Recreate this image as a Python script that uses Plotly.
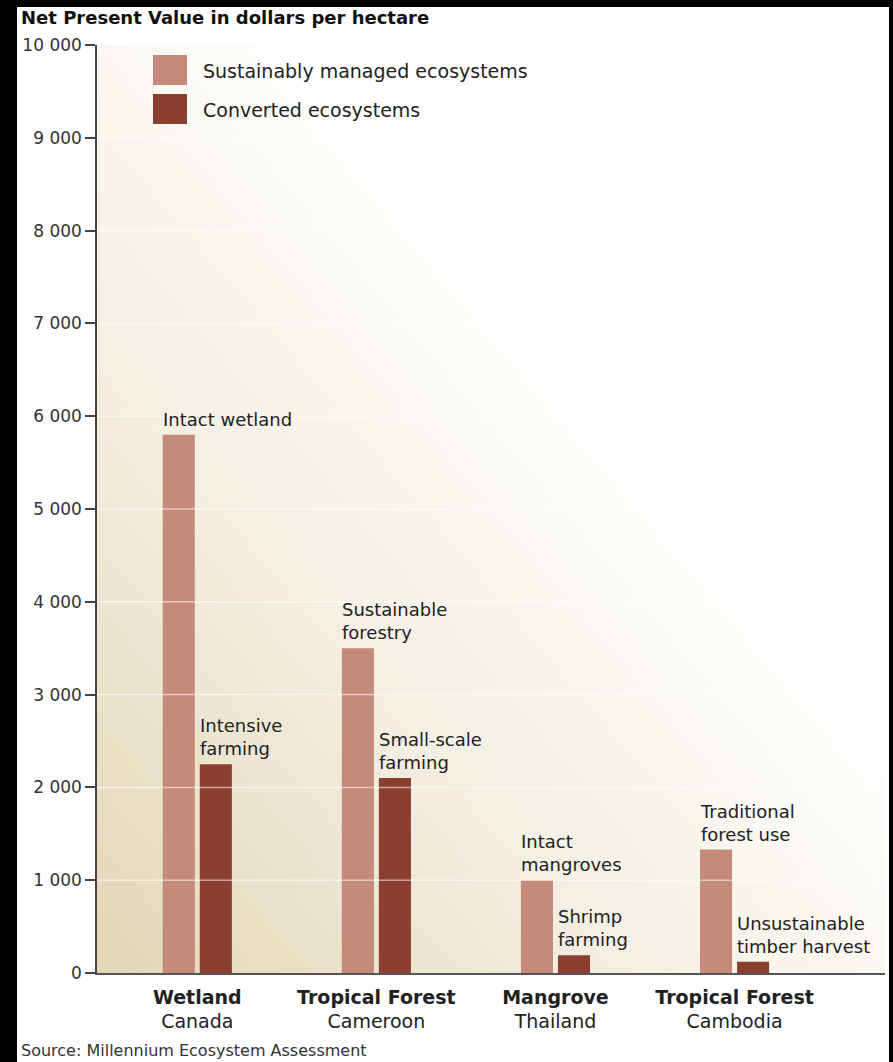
import base64
import plotly.graph_objects as go

# ---------------- data ----------------
ecosystems = ["Wetland", "Tropical Forest", "Mangrove", "Tropical Forest"]
countries = ["Canada", "Cameroon", "Thailand", "Cambodia"]
sustainable_values = [5800, 3500, 1000, 1330]
converted_values = [2250, 2100, 190, 120]
sustainable_labels = ["Intact wetland", "Sustainable<br>forestry", "Intact<br>mangroves", "Traditional<br>forest use"]
converted_labels = ["Intensive<br>farming", "Small-scale<br>farming", "Shrimp<br>farming", "Unsustainable<br>timber harvest"]
series_names = ["Sustainably managed ecosystems", "Converted ecosystems"]
y_tickvals = [0, 1000, 2000, 3000, 4000, 5000, 6000, 7000, 8000, 9000, 10000]
y_ticktext = ["0", "1 000", "2 000", "3 000", "4 000", "5 000", "6 000", "7 000", "8 000", "9 000", "10 000"]

# ---------------- style ----------------
LIGHT = "#c48a7a"
DARK = "#8b3f31"
FONT = "DejaVu Sans"
TXT = "#222222"
W, H = 893, 1062
ML, MR, MT, MB = 97, 8, 45, 89
BARGAP, BARGROUPGAP = 0.586, 0.135

cats = ["<b>%s</b><br>%s" % (e, c) for e, c in zip(ecosystems, countries)]

fig = go.Figure()
fig.add_trace(go.Bar(x=cats, y=sustainable_values, name=series_names[0],
                     marker=dict(color=LIGHT, line=dict(width=0)), showlegend=False))
fig.add_trace(go.Bar(x=cats, y=converted_values, name=series_names[1],
                     marker=dict(color=DARK, line=dict(width=0)), showlegend=False))

# geometry helpers (in category units) derived from bar gaps
slot = (1 - BARGAP) / 2
half_w = slot * (1 - BARGROUPGAP) / 2
offsets = [-slot / 2, slot / 2]

annotations = []
for i in range(len(cats)):
    for k, (vals, labs) in enumerate([(sustainable_values, sustainable_labels),
                                       (converted_values, converted_labels)]):
        annotations.append(dict(
            x=i + offsets[k] - half_w, y=vals[i], xref="x", yref="y",
            text=labs[i], showarrow=False, xanchor="left", yanchor="bottom",
            align="left", xshift=-2, yshift=3,
            font=dict(family=FONT, size=18, color=TXT)))

plot_w = W - ML - MR
plot_h = H - MT - MB
def px_x(p):
    return (p - ML) / plot_w
def px_y(p):
    return (H - MB - p) / plot_h

# title and source
annotations.append(dict(x=px_x(19), y=px_y(17), xref="paper", yref="paper",
                        text="<b>Net Present Value in dollars per hectare</b>",
                        showarrow=False, xanchor="left", yanchor="middle",
                        font=dict(family=FONT, size=18, color="#111111")))
annotations.append(dict(x=px_x(19), y=px_y(1050), xref="paper", yref="paper",
                        text="Source: Millennium Ecosystem Assessment",
                        showarrow=False, xanchor="left", yanchor="middle",
                        font=dict(family=FONT, size=16, color="#333333")))

# custom legend
shapes = []
legend_rows = [(55, 85, LIGHT, series_names[0]), (94, 124, DARK, series_names[1])]
for y0, y1, col, name in legend_rows:
    shapes.append(dict(type="rect", xref="paper", yref="paper",
                       x0=px_x(153), x1=px_x(187), y0=px_y(y1), y1=px_y(y0),
                       fillcolor=col, line=dict(width=0), layer="above"))
    annotations.append(dict(x=px_x(201), y=px_y((y0 + y1) / 2 + 1), xref="paper", yref="paper",
                            text=name, showarrow=False, xanchor="left", yanchor="middle",
                            font=dict(family=FONT, size=19, color=TXT)))

# white gridlines drawn over the bars
for v in y_tickvals[1:-1]:
    shapes.append(dict(type="line", xref="paper", yref="y", x0=0, x1=1, y0=v, y1=v,
                       line=dict(color="rgba(255,255,255,0.55)", width=1.5), layer="above"))

# black frame strips
black = dict(type="rect", xref="paper", yref="paper", fillcolor="black",
             line=dict(width=0), layer="above")
shapes.append(dict(black, x0=px_x(-5), x1=px_x(17), y0=px_y(H + 5), y1=px_y(-5)))
shapes.append(dict(black, x0=px_x(-5), x1=px_x(W + 5), y0=px_y(7), y1=px_y(-5)))
shapes.append(dict(black, x0=px_x(889), x1=px_x(W + 5), y0=px_y(H + 5), y1=px_y(-5)))

# gradient background of the plot area
svg = ('<svg xmlns="http://www.w3.org/2000/svg" width="788" height="928" '
       'viewBox="0 0 788 928" preserveAspectRatio="none">'
       '<defs><linearGradient id="g" x1="0" y1="1" x2="0.75" y2="0.25">'
       '<stop offset="0" stop-color="#e2d6b6"/>'
       '<stop offset="0.45" stop-color="#f4efe3"/>'
       '<stop offset="0.8" stop-color="#fefdfb"/>'
       '<stop offset="1" stop-color="#ffffff"/>'
       '</linearGradient></defs>'
       '<rect width="788" height="928" fill="url(#g)"/></svg>')
src = "data:image/svg+xml;base64," + base64.b64encode(svg.encode()).decode()

fig.update_layout(
    width=W, height=H,
    margin=dict(l=ML, r=MR, t=MT, b=MB),
    paper_bgcolor="white", plot_bgcolor="rgba(0,0,0,0)",
    barmode="group", bargap=BARGAP, bargroupgap=BARGROUPGAP,
    font=dict(family=FONT, color=TXT),
    annotations=annotations, shapes=shapes,
    images=[dict(source=src, xref="paper", yref="paper", x=0, y=1, sizex=1, sizey=1,
                 sizing="stretch", xanchor="left", yanchor="top", layer="below")],
    xaxis=dict(range=[-0.56, 3.84], showgrid=False, ticks="", showline=True,
               linecolor="#555555", linewidth=1.5, ticklabelstandoff=6,
               tickfont=dict(family=FONT, size=19, color=TXT), fixedrange=True),
    yaxis=dict(range=[0, 10000], tickvals=y_tickvals, ticktext=y_ticktext,
               showgrid=False, zeroline=False, showline=True, linecolor="#444444",
               linewidth=1.5, ticks="outside", ticklen=10, tickcolor="#444444",
               tickwidth=1.5, tickfont=dict(family=FONT, size=17, color="#333333"),
               fixedrange=True),
)

fig.write_html("out.html")
